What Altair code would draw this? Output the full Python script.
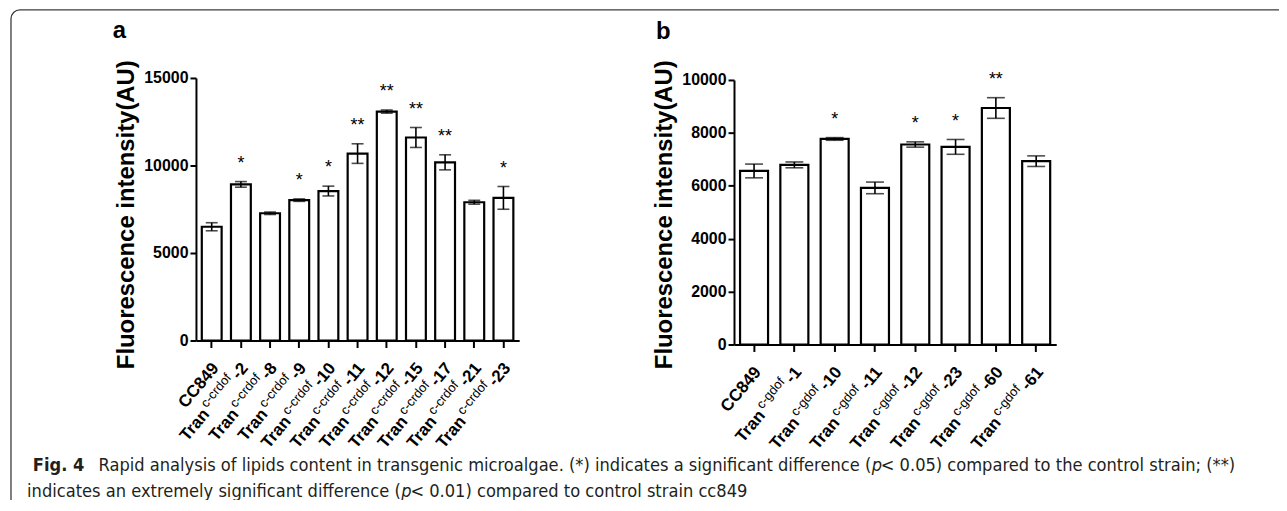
import altair as alt
import pandas as pd

# ---------------- data ----------------
cats_a = ["CC849", "-2", "-8", "-9", "-10", "-11", "-12", "-15", "-17", "-21", "-23"]
mean_a = [6500, 8920, 7270, 8020, 8540, 10680, 13080, 11600, 10180, 7900, 8150]
err_a = [230, 160, 70, 70, 280, 560, 90, 570, 430, 110, 650]
sig_a = ["", "*", "", "*", "*", "**", "**", "**", "**", "", "*"]
yticks_a = [0, 5000, 10000, 15000]

cats_b = ["CC849", "-1", "-10", "-11", "-12", "-23", "-60", "-61"]
mean_b = [6560, 6790, 7770, 5920, 7560, 7470, 8940, 6930]
err_b = [260, 110, 50, 220, 100, 280, 390, 200]
sig_b = ["", "", "*", "", "*", "*", "**", ""]
yticks_b = [0, 2000, 4000, 6000, 8000, 10000]

sup_a = "c-crdof"
sup_b = "c-gdof"
y_title = "Fluorescence intensity(AU)"

cap1_bold = "Fig. 4"
cap1_a = "Rapid analysis of lipids content in transgenic microalgae. (*) indicates a significant difference ("
cap1_p = "p"
cap1_b = " < 0.05) compared to the control strain; (**)"
cap2_a = "indicates an extremely significant difference ("
cap2_p = "p"
cap2_b = " < 0.01) compared to control strain cc849"

# ---------------- layout / style ----------------
W, H = 1278, 492
FONT = "Liberation Sans, Arial, Helvetica, sans-serif"
CAPFONT = "Liberation Sans Narrow, Arial Narrow, DejaVu Sans Condensed, Liberation Sans, sans-serif"

BOLD_W = {"-": 0.333, "T": 0.611, "r": 0.389, "a": 0.556, "n": 0.611, "C": 0.722}
REG_W = {"c": 0.5, "-": 0.333, "r": 0.333, "d": 0.556, "o": 0.556, "f": 0.278, "g": 0.556}


def tw(s, table, size):
    return sum(table.get(ch, 0.556) for ch in s) * size


LBL = 17
SUP = 13
ANG = 310
DX0, DY0 = -16.6, 19.2


def panel(cats, means, errs, sigs, sup, xr, pin, pout, y0, ytop, ymax, yticks, cap):
    df = pd.DataFrame({"cat": cats, "mean": means, "err": errs, "sig": sigs})
    df["lo"] = df["mean"] - df["err"]
    df["hi"] = df["mean"] + df["err"]
    df["zero"] = 0
    df["pre"] = ["" if c == "CC849" else "Tran" for c in cats]
    df["sup"] = ["" if c == "CC849" else sup for c in cats]
    base = alt.Chart(df)

    xax = alt.Axis(orient="bottom", offset=-(H - y0), labels=False, title=None,
                   domainColor="black", domainWidth=2, tickColor="black",
                   tickWidth=2, tickSize=7, grid=False)
    x = alt.X("cat:N", sort=cats,
              scale=alt.Scale(domain=cats, range=xr, paddingInner=pin, paddingOuter=pout),
              axis=xax)
    yscale = alt.Scale(domain=[0, ymax], range=[y0, ytop], nice=False, zero=True)
    yax = alt.Axis(orient="left", offset=-xr[0], values=yticks, format="d", grid=False,
                   domainColor="black", domainWidth=2, tickColor="black", tickWidth=2,
                   tickSize=6, labelFont=FONT, labelFontSize=16, labelFontWeight="bold",
                   labelColor="black", labelPadding=2, title=y_title, titleFont=FONT,
                   titleFontSize=24, titleFontWeight="bold", titleColor="black",
                   titleAngle=270, titleAlign="center", titleBaseline="middle",
                   titleX=-70, titleY=206)

    def Y(f):
        return alt.Y(f"{f}:Q", scale=yscale, axis=yax)

    bars = base.mark_bar(fill="white", stroke="black", strokeWidth=2.2).encode(x=x, y=Y("mean"))
    rule = base.mark_rule(color="black", strokeWidth=1.6).encode(x=x, y=Y("lo"), y2="hi:Q")
    caps_lo = base.mark_tick(color="black", thickness=1.6, size=cap).encode(x=x, y=Y("lo"))
    caps_hi = base.mark_tick(color="black", thickness=1.6, size=cap).encode(x=x, y=Y("hi"))
    stars = base.mark_text(font=FONT, fontSize=18, color="black", baseline="alphabetic",
                           dy=-13).encode(x=x, y=Y("hi"), text="sig:N")
    main = base.mark_text(font=FONT, fontSize=LBL, fontWeight="bold", angle=ANG,
                          align="right", baseline="middle", dx=DX0, dy=DY0,
                          color="black").encode(x=x, y=Y("zero"), text="cat:N")
    layers = [bars, rule, caps_lo, caps_hi, stars, main]
    wsup = tw(sup, REG_W, SUP)
    for n in sorted(set(len(c) for c in cats if c != "CC849")):
        wsuf = tw("-" + "0" * (n - 1), BOLD_W, LBL)
        dxs = DX0 - wsuf - 3
        dxp = dxs - wsup - 2.5
        flt = f"datum.pre != '' && length(datum.cat) == {n}"
        layers.append(base.transform_filter(flt).mark_text(
            font=FONT, fontSize=SUP, fontWeight="normal", angle=ANG, align="right",
            baseline="middle", dx=dxs, dy=DY0 - 6, color="black"
        ).encode(x=x, y=Y("zero"), text="sup:N"))
        layers.append(base.transform_filter(flt).mark_text(
            font=FONT, fontSize=LBL, fontWeight="bold", angle=ANG, align="right",
            baseline="middle", dx=dxp, dy=DY0, color="black"
        ).encode(x=x, y=Y("zero"), text="pre:N"))
    return alt.layer(*layers)


pa = panel(cats_a, mean_a, err_a, sig_a, sup_a, [189, 514], 0.32, 0.2, 333, 69, 15000, yticks_a, 12)
pb = panel(cats_b, mean_b, err_b, sig_b, sup_b, [730, 1054], 0.305, 0.15, 337, 71, 10000, yticks_b, 18)


def txt(s, x, y, **kw):
    return alt.Chart(pd.DataFrame({"t": [s]})).mark_text(**kw).encode(
        x=alt.value(x), y=alt.value(y), text="t:N")


CS = 18.2
P_W = 0.50 * CS
L1, L2 = 459, 485
INK = "#231f20"
texts = [
    txt("a", 112, 22, font=FONT, fontSize=24, fontWeight="bold", align="center", color="black"),
    txt("b", 659, 23, font=FONT, fontSize=24, fontWeight="bold", align="center", color="black"),
    txt(cap1_bold, 25, L1, font=CAPFONT, fontSize=CS, fontWeight="bold", align="left", color=INK),
    txt(cap1_a, 868, L1, font=CAPFONT, fontSize=CS, align="right", color=INK),
    txt(cap1_p, 868.5, L1, font=CAPFONT, fontSize=CS, fontStyle="italic", align="left", color=INK),
    txt(cap1_b, 868.5 + P_W, L1, font=CAPFONT, fontSize=CS, align="left", color=INK),
    txt(cap2_a, 395, L2, font=CAPFONT, fontSize=CS, align="right", color=INK),
    txt(cap2_p, 395.5, L2, font=CAPFONT, fontSize=CS, fontStyle="italic", align="left", color=INK),
    txt(cap2_b, 395.5 + P_W, L2, font=CAPFONT, fontSize=CS, align="left", color=INK),
]

frame = alt.Chart(pd.DataFrame({"k": [0]})).mark_rect(
    fill="white", fillOpacity=0, stroke="#3c3c3c", strokeWidth=1.3, cornerRadius=9
).encode(x=alt.value(3), y=alt.value(0.5), x2=alt.value(W + 40), y2=alt.value(H + 40))

chart = alt.layer(frame, pa, pb, *texts).resolve_scale(
    x="independent", y="independent"
).properties(
    width=W, height=H, autosize=alt.AutoSizeParams(type="none"), padding=0,
    background="white"
).configure_view(stroke=None)

chart.save("out.html", embed_options={"renderer": "svg", "actions": False})
